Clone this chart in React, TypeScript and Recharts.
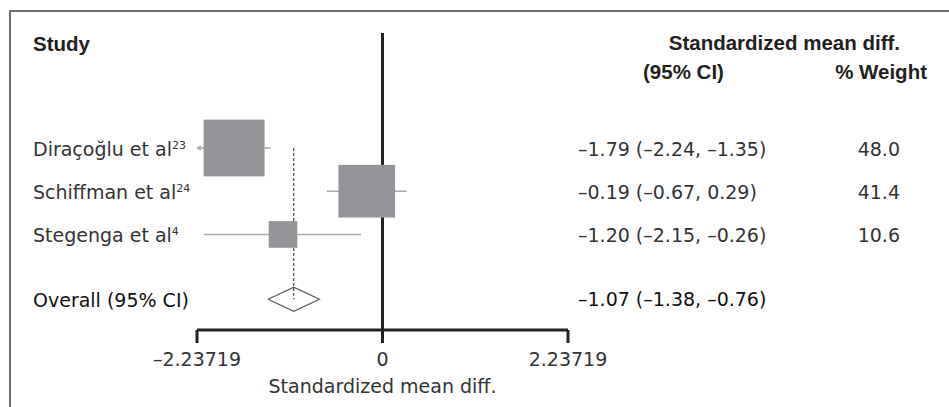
import React from 'react';
import { ScatterChart, Scatter, XAxis, YAxis, ReferenceLine } from 'recharts';

// ---- data ----
const studies = ['Diraçoğlu et al', 'Schiffman et al', 'Stegenga et al'];
const refNums = ['23', '24', '4'];
const estimates = [-1.79, -0.19, -1.2];
const lowers = [-2.24, -0.67, -2.15];
const uppers = [-1.35, 0.29, -0.26];
const weights = [48.0, 41.4, 10.6];
const studyRows = [1, 2, 3];

const overallLabel = 'Overall (95% CI)';
const overallEst = -1.07;
const overallLow = -1.38;
const overallHigh = -0.76;
const overallRow = 4.5;

const xTicks = [-2.23719, 0, 2.23719];
const X_MIN = -2.23719;
const X_MAX = 2.23719;
const rowTicks = [...studyRows, overallRow];

const axisTitle = 'Standardized mean diff.';
const headerStudy = 'Study';
const headerSmd = 'Standardized mean diff.';
const headerCi = '(95% CI)';
const headerWeight = '% Weight';

// ---- styles ----
const REG = "'DejaVu Sans', sans-serif";
const BOLD = "'Liberation Sans', Arial, sans-serif";
const TXT = '#333';
const DARK = '#231f20';
const SQUARE = '#939598';
const CI_LINE = '#a7a9ac';

const fmtNum = (v: number, d: number) => (v < 0 ? '\u2013' + Math.abs(v).toFixed(d) : v.toFixed(d));
const fmtTick = (v: number) => (v < 0 ? '\u2013' + String(Math.abs(v)) : String(v));
const ciText = (e: number, l: number, h: number) => `${fmtNum(e, 2)} (${fmtNum(l, 2)}, ${fmtNum(h, 2)})`;

const ciSegments = studies.map((_, i) => [
  { x: Math.max(lowers[i], X_MIN), y: studyRows[i] },
  { x: Math.min(uppers[i], X_MAX), y: studyRows[i] },
]);
const arrowPoints = studies
  .map((_, i) => ({ x: X_MIN, y: studyRows[i], clipped: lowers[i] < X_MIN }))
  .filter((p) => p.clipped);
const squareData = studies.map((_, i) => ({ x: estimates[i], y: studyRows[i], w: weights[i] }));
const DIAMOND_H = 0.28;
const diamondData = [
  { x: overallLow, y: overallRow },
  { x: overallEst, y: overallRow - DIAMOND_H },
  { x: overallHigh, y: overallRow },
  { x: overallEst, y: overallRow + DIAMOND_H },
  { x: overallLow, y: overallRow },
];

const renderLeftTick = (props: any) => {
  const { y, payload } = props;
  const idx = rowTicks.indexOf(payload.value);
  if (idx < 0) return <g />;
  if (idx >= studies.length) {
    return (
      <text x={33} y={y} dy={8} fontFamily={REG} fontSize={19} fill="#111" textAnchor="start">
        {overallLabel}
      </text>
    );
  }
  return (
    <text x={33} y={y} dy={8} fontFamily={REG} fontSize={19} fill={TXT} textAnchor="start">
      {studies[idx]}
      <tspan fontSize={11} dy={-7}>{refNums[idx]}</tspan>
    </text>
  );
};

const renderRightTick = (props: any) => {
  const { y, payload } = props;
  const idx = rowTicks.indexOf(payload.value);
  if (idx < 0) return <g />;
  if (idx >= studies.length) {
    return (
      <text x={578} y={y} dy={7} fontFamily={REG} fontSize={19} fill="#111" textAnchor="start">
        {ciText(overallEst, overallLow, overallHigh)}
      </text>
    );
  }
  return (
    <g>
      <text x={578} y={y} dy={8} fontFamily={REG} fontSize={19} fill={TXT} textAnchor="start">
        {ciText(estimates[idx], lowers[idx], uppers[idx])}
      </text>
      <text x={900} y={y} dy={8} fontFamily={REG} fontSize={19} fill={TXT} textAnchor="end">
        {weights[idx].toFixed(1)}
      </text>
    </g>
  );
};

const squareShape = (props: any) => {
  const { cx, cy, payload } = props;
  const s = 8.8 * Math.sqrt(payload.w);
  const h = s * 0.93;
  return <rect x={cx - s / 2} y={cy - h / 2} width={s} height={h} fill={SQUARE} />;
};

const arrowShape = (props: any) => {
  const { cx, cy } = props;
  return <path d={`M${cx + 4},${cy - 2} L${cx},${cy} L${cx + 4},${cy + 2}`} stroke={CI_LINE} strokeWidth={1.2} fill="none" />;
};

const noShape = () => <g />;

export default function App() {
  return (
    <div style={{ position: 'absolute', left: 0, top: 0, width: 949, height: 407, background: '#fff' }}>
      <ScatterChart width={949} height={407} margin={{ top: 33, right: 10, bottom: 17, left: 10 }}>
        <g>
          <rect x={10} y={11} width={960} height={420} fill="none" stroke="#6d6e71" strokeWidth={2} />
          <text x={33} y={51} fontFamily={BOLD} fontWeight="bold" fontSize={20.5} fill={DARK}>{headerStudy}</text>
          <text x={900} y={50} fontFamily={BOLD} fontWeight="bold" fontSize={20.5} fill={DARK} textAnchor="end">{headerSmd}</text>
          <text x={683.5} y={79} fontFamily={BOLD} fontWeight="bold" fontSize={20.5} fill={DARK} textAnchor="middle">{headerCi}</text>
          <text x={927} y={79} fontFamily={BOLD} fontWeight="bold" fontSize={20.5} fill={DARK} textAnchor="end">{headerWeight}</text>
          <text x={382.5} y={393} fontFamily={REG} fontSize={19} fill={TXT} textAnchor="middle">{axisTitle}</text>
        </g>
        <XAxis
          type="number"
          dataKey="x"
          domain={[X_MIN, X_MAX]}
          ticks={xTicks}
          interval={0}
          allowDataOverflow
          tickFormatter={fmtTick}
          axisLine={{ stroke: '#222', strokeWidth: 3 }}
          tickLine={{ stroke: '#222', strokeWidth: 3 }}
          tickSize={13}
          tickMargin={10}
          tick={{ fontFamily: REG, fontSize: 19, fill: TXT }}
          height={60}
        />
        <YAxis
          yAxisId="left"
          type="number"
          dataKey="y"
          domain={[-1.66, 5.21]}
          reversed
          allowDataOverflow
          ticks={rowTicks}
          interval={0}
          tick={renderLeftTick}
          axisLine={false}
          tickLine={false}
          width={187}
        />
        <YAxis
          yAxisId="right"
          orientation="right"
          type="number"
          dataKey="y"
          domain={[-1.66, 5.21]}
          reversed
          allowDataOverflow
          ticks={rowTicks}
          interval={0}
          tick={renderRightTick}
          axisLine={false}
          tickLine={false}
          width={371}
        />
        {ciSegments.map((seg, i) => (
          <Scatter
            key={'ci' + i}
            yAxisId="left"
            data={seg}
            line={{ stroke: CI_LINE, strokeWidth: 1.4 }}
            shape={noShape}
            isAnimationActive={false}
          />
        ))}
        <Scatter yAxisId="left" data={arrowPoints} shape={arrowShape} isAnimationActive={false} />
        <Scatter yAxisId="left" data={squareData} shape={squareShape} isAnimationActive={false} />
        <Scatter
          yAxisId="left"
          data={diamondData}
          line={{ stroke: '#58595b', strokeWidth: 1.2 }}
          shape={noShape}
          isAnimationActive={false}
        />
        <ReferenceLine yAxisId="left" x={0} stroke="#222" strokeWidth={3} />
        <ReferenceLine
          yAxisId="left"
          segment={[
            { x: overallEst, y: studyRows[0] },
            { x: overallEst, y: overallRow },
          ]}
          stroke="#222"
          strokeWidth={1}
          strokeDasharray="3 2"
        />
      </ScatterChart>
    </div>
  );
}
